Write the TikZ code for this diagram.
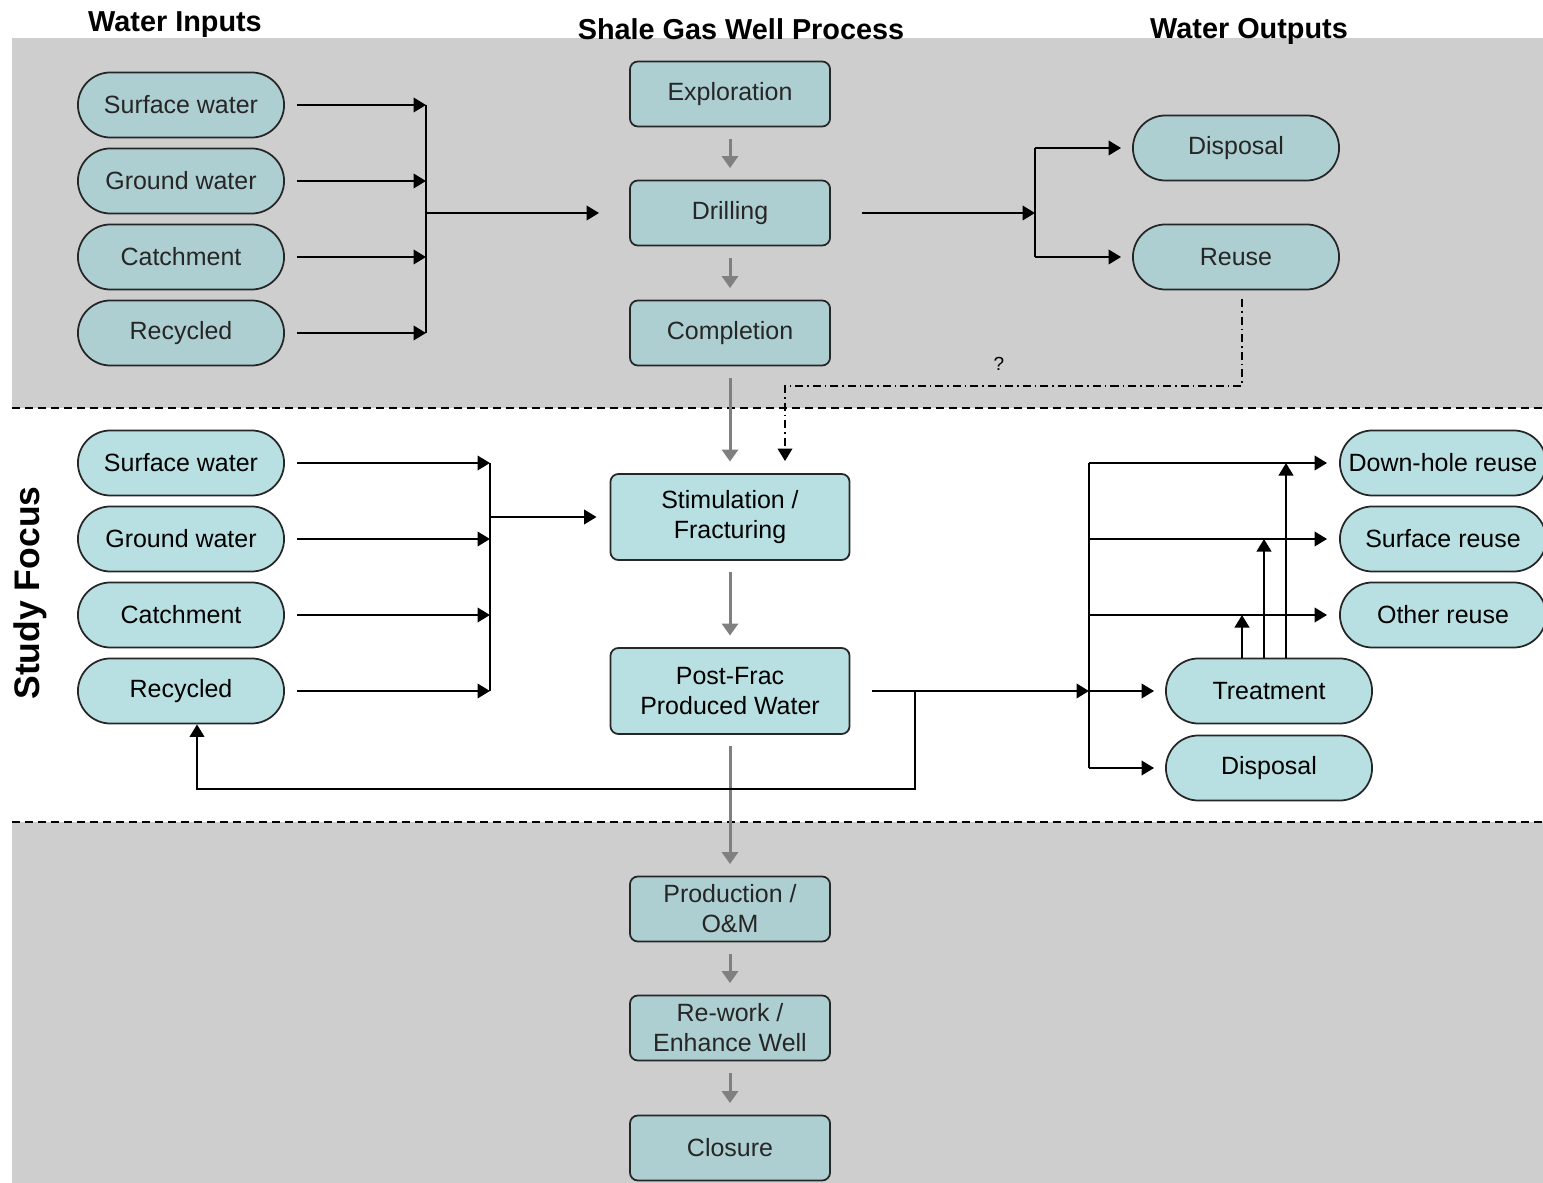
\documentclass[tikz,border=0pt]{standalone}
\usepackage{fontspec}
\setmainfont{Liberation Sans}
\usetikzlibrary{arrows.meta}

\definecolor{pillteal}{RGB}{184,224,226}
\definecolor{bandteal}{RGB}{174,207,209}
\definecolor{bandgray}{RGB}{206,206,206}
\definecolor{flowgray}{RGB}{128,128,128}

\tikzset{
  lbl/.style={font=\fontsize{7.1}{8.5}\selectfont, align=center},
  pill/.style={lbl, draw=black!85, line width=0.5pt, fill=pillteal, rounded corners=3.25mm,
    minimum width=2.06cm, minimum height=0.65cm, inner sep=0pt},
  bandpill/.style={pill, fill=bandteal, text=black!85},
  procbox/.style={lbl, draw=black!85, line width=0.5pt, fill=bandteal, text=black!85, rounded corners=0.8mm,
    minimum width=2.0cm, minimum height=0.65cm, inner sep=0pt},
  focusbox/.style={procbox, fill=pillteal, text=black, minimum width=2.39cm, minimum height=0.86cm},
  flow/.style={draw=black, line width=0.65pt, -{Triangle[length=1.25mm,width=1.45mm]}},
  bar/.style={draw=black, line width=0.65pt},
  procflow/.style={draw=flowgray, line width=0.85pt, -{Triangle[length=1.2mm,width=1.6mm]}},
  qflow/.style={draw=black, line width=0.6pt, dash pattern=on 0.8mm off 0.4mm on 0.15mm off 0.4mm,
    -{Triangle[length=1.25mm,width=1.45mm]}},
  heading/.style={font=\fontsize{8.2}{10}\selectfont\bfseries}
}

\begin{document}
\begin{tikzpicture}[x=0.01cm, y=-0.01cm]
    \useasboundingbox (0,0) rectangle (1543,1183);
    % bands
    \fill[bandgray] (12,38) rectangle (1543,408);
    \fill[bandgray] (12,822) rectangle (1543,1183);
    \draw[line width=0.6pt, dash pattern=on 0.8mm off 0.5mm] (12,408) -- (1543,408);
    \draw[line width=0.6pt, dash pattern=on 0.8mm off 0.5mm] (12,822) -- (1543,822);

    % headings
    \node[heading] (hin) at (175,25) {Water Inputs};
    \node[heading] (hproc) at (741,29) {Shale Gas Well Process};
    \node[heading] (hout) at (1249,31) {Water Outputs};
    \node[font=\fontsize{10.1}{12}\selectfont\bfseries, rotate=90] (focus) at (30,593) {Study Focus};

    % top band: inputs
    \node[bandpill] (sw1) at (181,105) {Surface water};
    \node[bandpill] (gw1) at (181,181) {Ground water};
    \node[bandpill] (ca1) at (181,257) {Catchment};
    \node[bandpill] (re1) at (181,333) {Recycled};

    % well process
    \node[procbox] (expl) at (730,94) {Exploration};
    \node[procbox] (drill) at (730,213) {Drilling};
    \node[procbox] (compl) at (730,333) {Completion};
    \node[focusbox] (stim) at (730,517) {Stimulation /\\Fracturing};
    \node[focusbox] (pf) at (730,691) {Post-Frac\\Produced Water};
    \node[procbox] (prod) at (730,909) {Production /\\O\&M};
    \node[procbox] (rework) at (730,1028) {Re-work /\\Enhance Well};
    \node[procbox] (close) at (730,1148) {Closure};

    % top band: outputs
    \node[bandpill] (disp1) at (1236,148) {Disposal};
    \node[bandpill] (reuse1) at (1236,257) {Reuse};

    % study focus: inputs
    \node[pill] (sw2) at (181,463) {Surface water};
    \node[pill] (gw2) at (181,539) {Ground water};
    \node[pill] (ca2) at (181,615) {Catchment};
    \node[pill] (re2) at (181,691) {Recycled};

    % study focus: outputs
    \node[pill] (treat) at (1269,691) {Treatment};
    \node[pill] (disp2) at (1269,768) {Disposal};
    \node[pill] (dh) at (1443,463) {Down-hole reuse};
    \node[pill] (sr) at (1443,539) {Surface reuse};
    \node[pill] (ot) at (1443,615) {Other reuse};

    % process chain
    \foreach \a/\b in {expl/drill, drill/compl, compl/stim, stim/pf, pf/prod, prod/rework, rework/close}
        \draw[procflow] ([yshift=-1.15mm]\a.south) -- ([yshift=1.15mm]\b.north);

    % inputs into drilling
    \coordinate (busA) at (426,213);
    \foreach \n in {sw1,gw1,ca1,re1}
        \draw[flow] ([xshift=1.2mm]\n.east) -- (\n.east -| busA);
    \draw[bar] (sw1.east -| busA) -- (re1.east -| busA);
    \draw[flow] (busA) -- ([xshift=-3mm]drill.west);

    % drilling outputs
    \coordinate (busB) at (1035,213);
    \draw[flow] ([xshift=3.1mm]drill.east) -- (busB);
    \draw[bar] (busB |- disp1.west) -- (busB |- reuse1.west);
    \draw[flow] (busB |- disp1.west) -- ([xshift=-1.1mm]disp1.west);
    \draw[flow] (busB |- reuse1.west) -- ([xshift=-1.1mm]reuse1.west);

    % reuse into fracturing?
    \coordinate (qa) at (1242,386);
    \coordinate (qb) at (785,386);
    \draw[qflow] ([yshift=-0.9mm]reuse1.south -| qa) -- (qa) -- (qb) -- ([yshift=1.2mm]stim.north -| qb);
    \node[font=\fontsize{5.4}{6}\selectfont] (qmark) at (999,364) {?};

    % inputs into fracturing
    \coordinate (busC) at (490,517);
    \foreach \n in {sw2,gw2,ca2,re2}
        \draw[flow] ([xshift=1.2mm]\n.east) -- (\n.east -| busC);
    \draw[bar] (sw2.east -| busC) -- (re2.east -| busC);
    \draw[flow] (busC) -- ([xshift=-1.3mm]stim.west);

    % produced water outputs
    \coordinate (busD) at (1089,691);
    \draw[flow] ([xshift=2.2mm]pf.east) -- (busD);
    \draw[flow] (busD) -- ([xshift=-1.1mm]treat.west);
    \draw[bar] (busD |- dh.west) -- (busD |- disp2.west);
    \foreach \n in {dh,sr,ot}
        \draw[flow] (busD |- \n.west) -- ([xshift=-1.2mm]\n.west);
    \draw[flow] (busD |- disp2.west) -- ([xshift=-1.1mm]disp2.west);

    % treated water to reuse
    \foreach \dx/\n in {-2.7/ot, -0.5/sr, 1.7/dh}
        \draw[flow] ([xshift=\dx mm]treat.north) -- ([xshift=\dx mm]treat.north |- \n.west);

    % recycle loop
    \coordinate (loopA) at (915,789);
    \draw[flow] (pf.east -| loopA) -- (loopA) -| ([xshift=1.6mm]re2.south);
\end{tikzpicture}
\end{document}
